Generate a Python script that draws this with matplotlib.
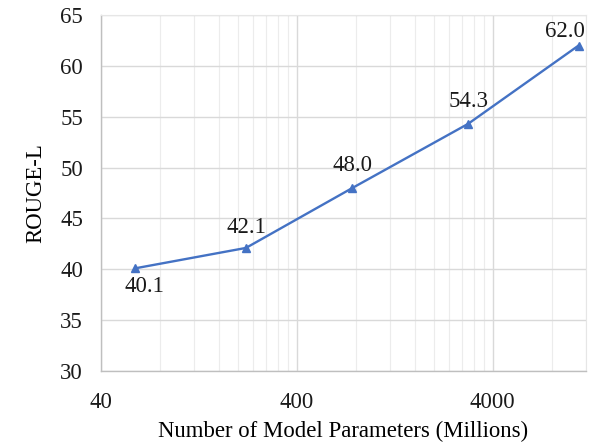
import matplotlib
matplotlib.use("Agg")
import matplotlib.pyplot as plt
from matplotlib.ticker import FixedLocator, NullFormatter, FixedFormatter

params_millions = [60, 220, 770, 3000, 11000]
rouge_l = [40.1, 42.1, 48.0, 54.3, 62.0]
x_ticks = [40, 400, 4000]
x_tick_labels = ["40", "400", "4000"]
y_ticks = [30, 35, 40, 45, 50, 55, 60, 65]

plt.rcParams["font.family"] = ["Liberation Serif", "DejaVu Serif"]
FS = 16.4

fig = plt.figure(figsize=(5.93, 4.42), dpi=100)
ax = fig.add_axes([101 / 593, 1 - 371 / 442, (586 - 101) / 593, (371 - 15) / 442])

ax.set_xscale("log")
ax.set_xlim(40, 12000)
ax.set_ylim(30, 65)

minor = [m * d for d in (40, 400, 4000) for m in range(2, 10) if m * d <= 12000]
ax.xaxis.set_major_locator(FixedLocator(x_ticks))
ax.xaxis.set_major_formatter(FixedFormatter(x_tick_labels))
ax.xaxis.set_minor_locator(FixedLocator(minor))
ax.xaxis.set_minor_formatter(NullFormatter())
ax.set_yticks(y_ticks)

ax.grid(True, which="major", color="#d9d9d9", linewidth=1.0)
ax.grid(True, which="minor", axis="x", color="#ececec", linewidth=0.8)
ax.set_axisbelow(True)

ax.tick_params(axis="both", which="both", length=0, labelsize=FS, colors="#1a1a1a")
ax.tick_params(axis="x", pad=15)
ax.tick_params(axis="y", pad=13)

for side in ("top", "right"):
    ax.spines[side].set_color("#e6e6e6")
    ax.spines[side].set_linewidth(0.8)
for side in ("left", "bottom"):
    ax.spines[side].set_color("#bfbfbf")
    ax.spines[side].set_linewidth(1.0)

ax.plot(params_millions, rouge_l, color="#4472c4", linewidth=1.7,
        marker="^", markersize=5.5, zorder=3, clip_on=False)

offsets = [(6.5, -13), (0, 15), (0, 16), (0, 16), (-10, 10)]
for x, y, (dx, dy) in zip(params_millions, rouge_l, offsets):
    ax.annotate(f"{y:.1f}", (x, y), xytext=(dx, dy), textcoords="offset points",
                ha="center", va="center", fontsize=FS, color="#1a1a1a")

ax.set_xlabel("Number of Model Parameters (Millions)", fontsize=FS, labelpad=6)
ax.set_ylabel("ROUGE-L", fontsize=FS, labelpad=10)

fig.savefig("out.png", dpi=100)
